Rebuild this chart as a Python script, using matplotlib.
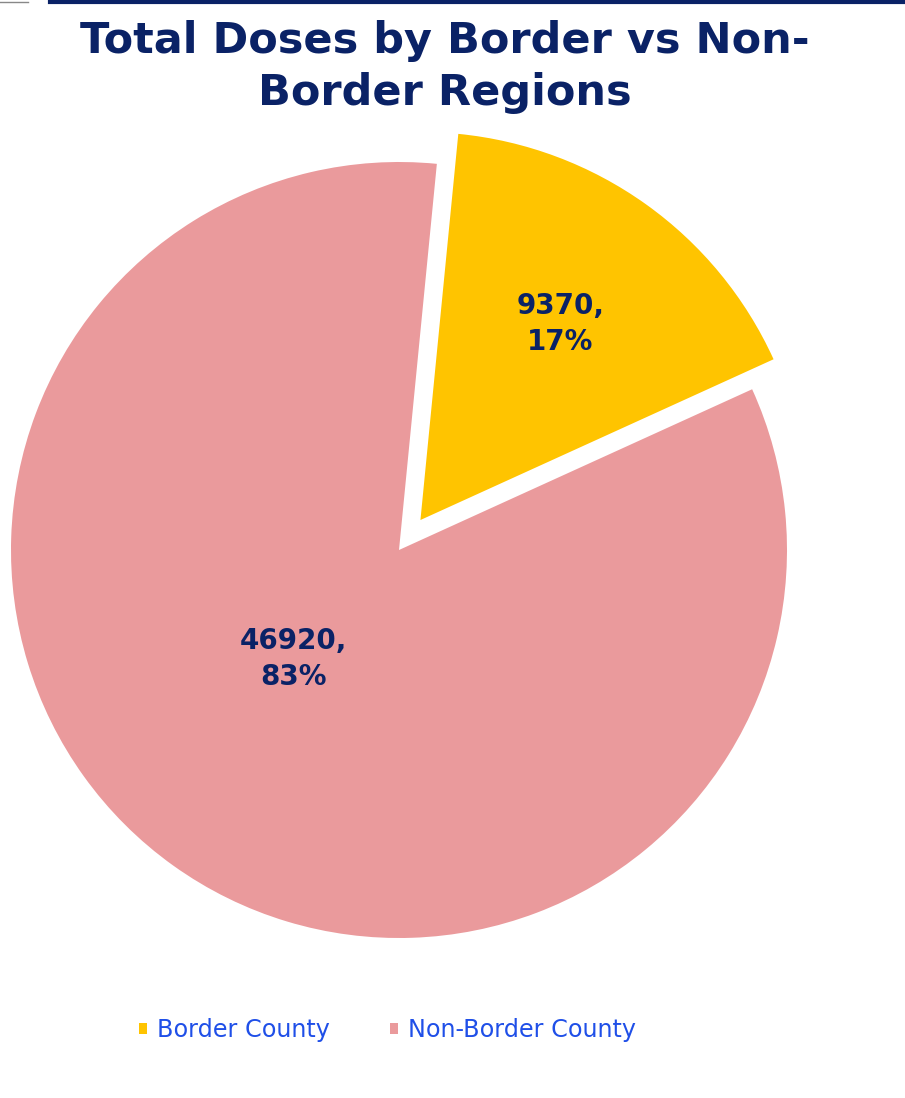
import numpy as np
import matplotlib
matplotlib.use("Agg")
import matplotlib.pyplot as plt
from matplotlib.lines import Line2D

plt.rcParams["font.family"] = ["DejaVu Sans"]

labels = ["Border County", "Non-Border County"]
doses = [9370, 46920]
colors = ["#FFC400", "#EA9A9C"]

navy = "#0A2266"
W, H = 905, 1098

fig = plt.figure(figsize=(W / 100, H / 100), dpi=100)
ax = fig.add_axes([0, 0, 1, 1])

cx, cy, r = 399, H - 550, 388
explode = [0.095 * r, 0]          # pie explode is in data units here
label_pos = [(0.62, 0), (0.39, -8.5)]  # (radius fraction, angle shift) of value labels

wedges, _ = ax.pie(doses, colors=colors, explode=explode, startangle=84.4,
                   counterclock=False, center=(cx, cy), radius=r,
                   wedgeprops=dict(linewidth=0), frame=True)
ax.set_xlim(0, W)
ax.set_ylim(0, H)
ax.set_aspect("equal")
ax.axis("off")

total = sum(doses)
for w, val, (d, shift) in zip(wedges, doses, label_pos):
    mid = np.deg2rad((w.theta1 + w.theta2) / 2 + shift)
    ox, oy = w.center
    x = ox + d * r * np.cos(mid)
    y = oy + d * r * np.sin(mid)
    ax.text(x, y, "%d,\n%d%%" % (val, round(val / total * 100)),
            ha="center", va="center", fontsize=20, fontweight="bold",
            color=navy, linespacing=1.35)

fig.text(0.492, 1 - 67 / H, "Total Doses by Border vs Non-\nBorder Regions",
         ha="center", va="center", fontsize=31, fontweight="bold",
         color=navy, linespacing=1.28)

# thin rule along the top
fig.add_artist(Line2D([50 / W, 1], [1 - 1.5 / H] * 2, color=navy, lw=3))
fig.add_artist(Line2D([0, 28 / W], [1 - 1.5 / H] * 2, color="#888888", lw=1))

leg = fig.legend(wedges, labels, loc="center", bbox_to_anchor=(0.428, 1 - 1030 / H),
                 ncol=2, frameon=False, prop={"family": "DejaVu Sans", "size": 17.2},
                 handlelength=0.35, handleheight=0.35, columnspacing=2.5,
                 handletextpad=0.42)
for t in leg.get_texts():
    t.set_color("#1F4FE8")

fig.savefig("out.png", dpi=100)
